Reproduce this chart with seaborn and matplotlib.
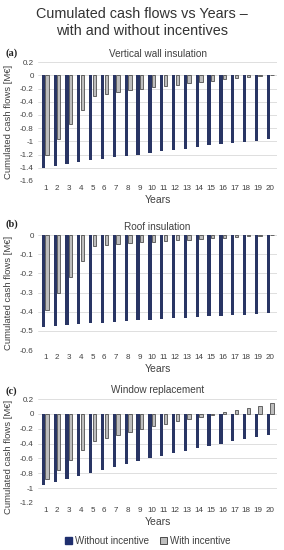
import pandas as pd
import matplotlib
matplotlib.use("Agg")
import matplotlib.pyplot as plt
import seaborn as sns
from matplotlib.patches import Patch

# ---- data ----
years = list(range(1, 21))

wall_without = [-1.40, -1.37, -1.34, -1.32, -1.29, -1.27, -1.24, -1.22, -1.20, -1.17,
                -1.15, -1.13, -1.11, -1.08, -1.06, -1.04, -1.02, -1.01, -0.99, -0.97]
wall_with = [-1.20, -0.96, -0.74, -0.52, -0.31, -0.28, -0.25, -0.22, -0.20, -0.18,
             -0.16, -0.14, -0.12, -0.10, -0.08, -0.06, -0.04, -0.02, -0.01, 0.005]

roof_without = [-0.480, -0.475, -0.470, -0.465, -0.460, -0.457, -0.453, -0.449, -0.445, -0.442,
                -0.438, -0.434, -0.431, -0.428, -0.424, -0.421, -0.418, -0.415, -0.412, -0.408]
roof_with = [-0.39, -0.30, -0.22, -0.135, -0.055, -0.050, -0.045, -0.042, -0.038, -0.035,
             -0.031, -0.028, -0.024, -0.021, -0.017, -0.014, -0.011, -0.007, -0.004, -0.001]

window_without = [-0.96, -0.92, -0.88, -0.84, -0.80, -0.76, -0.72, -0.68, -0.64, -0.60,
                  -0.57, -0.53, -0.50, -0.46, -0.43, -0.40, -0.37, -0.34, -0.31, -0.28]
window_with = [-0.88, -0.75, -0.62, -0.49, -0.37, -0.33, -0.29, -0.25, -0.21, -0.17,
               -0.14, -0.10, -0.07, -0.04, -0.01, 0.02, 0.05, 0.08, 0.11, 0.14]

series_names = ["Without incentive", "With incentive"]
panel_titles = ["Vertical wall insulation", "Roof insulation", "Window replacement"]
panel_tags = ["(a)", "(b)", "(c)"]
y_ranges = [(-1.6, 0.2, 0.2), (-0.6, 0.0, 0.1), (-1.2, 0.2, 0.2)]
tick_labels = [
    ["-1.6", "-1.4", "-1.2", "-1", "-0.8", "-0.6", "-0.4", "-0.2", "0", "0.2"],
    ["-0.6", "-0.5", "-0.4", "-0.3", "-0.2", "-0.1", "0"],
    ["-1.2", "-1", "-0.8", "-0.6", "-0.4", "-0.2", "0", "0.2"],
]

NAVY = "#1F2F6E"
GRAY = "#BDBDBD"
TXT = "#404040"

sns.set_theme(style="white")
plt.rcParams["font.family"] = ["Liberation Sans", "DejaVu Sans"]

fig = plt.figure(figsize=(2.84, 5.5), dpi=100)

# axes rectangles in figure fractions
rects = [
    [0.134, 0.671, 0.842, 0.216],
    [0.134, 0.3636, 0.842, 0.209],
    [0.134, 0.0855, 0.842, 0.189],
]
tag_y = [1 - 53 / 550, 1 - 224 / 550, 1 - 391 / 550]
ylabel_y = [0.5, 0.5, 0.44]

panels = [(wall_without, wall_with), (roof_without, roof_with), (window_without, window_with)]

for i, (without, with_inc) in enumerate(panels):
    df = pd.DataFrame({
        "Years": years * 2,
        "value": without + with_inc,
        "series": [series_names[0]] * 20 + [series_names[1]] * 20,
    })
    ax = fig.add_axes(rects[i])
    sns.barplot(data=df, x="Years", y="value", hue="series",
                palette=[NAVY, GRAY], width=0.62, gap=0.1,
                legend=False, ax=ax, linewidth=0)
    for p in ax.containers[1]:
        p.set_edgecolor("#333333")
        p.set_linewidth(0.5)

    lo, hi, step = y_ranges[i]
    n = int(round((hi - lo) / step)) + 1
    ticks = [lo + k * step for k in range(n)]
    ax.set_ylim(lo, hi)
    ax.set_yticks(ticks)
    ax.set_yticklabels(tick_labels[i])
    ax.set_xlim(-0.6, 19.6)
    ax.grid(axis="y", color="#D9D9D9", linewidth=0.6)
    ax.set_axisbelow(True)
    for s in ax.spines.values():
        s.set_visible(False)
    ax.tick_params(axis="both", length=0, labelsize=5.8, colors=TXT, pad=3)
    ax.set_xlabel("Years", fontsize=7.5, color=TXT, labelpad=2)
    ax.set_ylabel("Cumulated cash flows [M€]", fontsize=6.8, color=TXT)
    ax.yaxis.set_label_coords(-0.105, ylabel_y[i])
    ax.set_title(panel_titles[i], fontsize=7.2, color=TXT, pad=4)
    fig.text(0.018, tag_y[i], panel_tags[i], fontsize=7.5,
             family="Liberation Serif", fontweight="bold", color="#222222",
             ha="left", va="center")

fig.text(0.5, 0.959, "Cumulated cash flows vs Years –\nwith and without incentives",
         ha="center", va="center", fontsize=10.4, color="#333333", linespacing=1.2)

handles = [Patch(facecolor=NAVY, edgecolor=NAVY),
           Patch(facecolor=GRAY, edgecolor="#333333", linewidth=0.6)]
fig.legend(handles, series_names, loc="center", bbox_to_anchor=(0.52, 0.016),
           ncol=2, frameon=False, fontsize=7, handlelength=0.7, handleheight=0.7,
           handletextpad=0.3, columnspacing=1.2, labelcolor=TXT)

fig.savefig("out.png", dpi=100)
